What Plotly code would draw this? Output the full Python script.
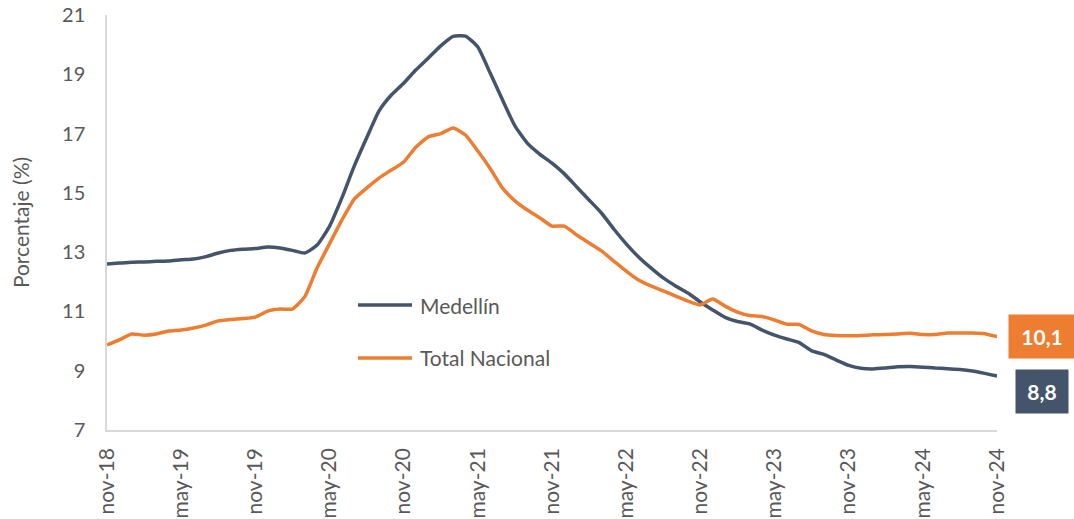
import plotly.graph_objects as go

meses = ["nov-18", "may-19", "nov-19", "may-20", "nov-20", "may-21", "nov-21",
         "may-22", "nov-22", "may-23", "nov-23", "may-24", "nov-24"]

medellin = [12.60, 12.63, 12.66, 12.67, 12.69, 12.70, 12.74, 12.77, 12.85, 12.97,
            13.06, 13.10, 13.12, 13.17, 13.14, 13.06, 12.97, 13.24, 13.87, 14.83,
            15.90, 16.85, 17.76, 18.30, 18.70, 19.15, 19.55, 19.96, 20.28, 20.29,
            19.92, 19.04, 18.13, 17.26, 16.68, 16.31, 16.00, 15.64, 15.20, 14.76,
            14.32, 13.78, 13.28, 12.84, 12.47, 12.13, 11.86, 11.62, 11.32, 11.05,
            10.80, 10.66, 10.58, 10.37, 10.20, 10.07, 9.95, 9.67, 9.55, 9.36,
            9.18, 9.08, 9.06, 9.09, 9.13, 9.14, 9.12, 9.09, 9.07, 9.04,
            8.99, 8.91, 8.82]

nacional = [9.87, 10.04, 10.24, 10.20, 10.24, 10.34, 10.37, 10.44, 10.54, 10.68,
            10.73, 10.76, 10.81, 11.01, 11.08, 11.08, 11.50, 12.47, 13.28, 14.08,
            14.79, 15.16, 15.50, 15.77, 16.04, 16.55, 16.89, 17.00, 17.19, 16.95,
            16.41, 15.82, 15.16, 14.73, 14.42, 14.16, 13.88, 13.88, 13.58, 13.31,
            13.04, 12.70, 12.36, 12.06, 11.86, 11.69, 11.52, 11.35, 11.22, 11.42,
            11.18, 10.98, 10.86, 10.83, 10.71, 10.57, 10.56, 10.34, 10.22, 10.19,
            10.18, 10.19, 10.21, 10.22, 10.24, 10.26, 10.22, 10.22, 10.27, 10.27,
            10.27, 10.25, 10.15]

x = list(range(len(medellin)))
tickpos = list(range(0, len(medellin), 6))

AZUL = "#44546A"
NARANJA = "#ED7D31"
GRIS = "#595959"
FUENTE = "Lato"

fig = go.Figure()
fig.add_trace(go.Scatter(x=x, y=medellin, name="Medellín", mode="lines",
                         line=dict(color=AZUL, width=3.5, shape="spline", smoothing=0.5)))
fig.add_trace(go.Scatter(x=x, y=nacional, name="Total Nacional", mode="lines",
                         line=dict(color=NARANJA, width=3.5, shape="spline", smoothing=0.5)))

# leyenda dibujada a mano dentro del área del gráfico
for nombre, color, yy in [("Medellín", AZUL, 0.301), ("Total Nacional", NARANJA, 0.1735)]:
    fig.add_shape(type="line", xref="paper", yref="paper", x0=0.282, x1=0.3427,
                  y0=yy, y1=yy, line=dict(color=color, width=3.5))
    fig.add_annotation(xref="paper", yref="paper", x=0.3494, y=yy, text=nombre,
                       showarrow=False, xanchor="left", yanchor="middle",
                       font=dict(family=FUENTE, size=21, color=GRIS))

# etiquetas del último dato
fig.add_annotation(x=x[-1], y=nacional[-1], text="<b>10,1</b>", showarrow=False,
                   xshift=45, bgcolor=NARANJA, width=64, height=41,
                   font=dict(family=FUENTE, size=21, color="white"))
fig.add_annotation(x=x[-1], y=medellin[-1], text="<b>8,8</b>", showarrow=False,
                   xshift=45, yshift=-15, bgcolor=AZUL, width=50, height=41,
                   font=dict(family=FUENTE, size=21, color="white"))

fig.update_layout(
    width=1074, height=519,
    margin=dict(l=107, r=77, t=15, b=89),
    plot_bgcolor="white", paper_bgcolor="white",
    font=dict(family=FUENTE, size=20, color=GRIS),
    showlegend=False,
    xaxis=dict(range=[0, 72], tickvals=tickpos, ticktext=meses, tickangle=-90,
               showgrid=False, zeroline=False, showline=True, linecolor="#D9D9D9",
               linewidth=1.5, ticks="", automargin=False, ticklabelstandoff=8,
               tickfont=dict(size=21, color=GRIS)),
    yaxis=dict(range=[7, 21], dtick=2, tick0=7, showgrid=False, zeroline=False,
               showline=True, linecolor="#D9D9D9", linewidth=1.5, ticks="",
               automargin=False, ticklabelstandoff=16,
               tickfont=dict(size=20, color=GRIS),
               title=dict(text="Porcentaje (%)", font=dict(size=21, color=GRIS), standoff=27)),
)

fig.write_html("out.html", config={"displayModeBar": False},
               post_script="document.body.style.margin='0';")
